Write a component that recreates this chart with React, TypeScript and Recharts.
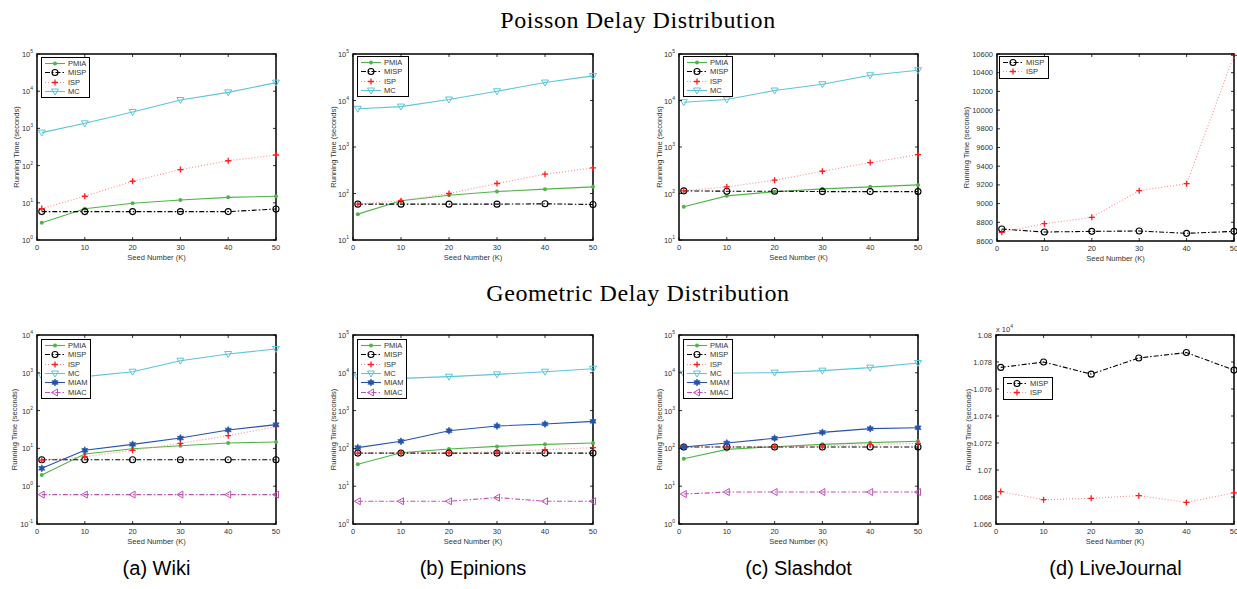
import React from "react";
import { LineChart, Line, XAxis, YAxis, ReferenceArea, Legend } from "recharts";

const seeds = [1, 10, 20, 30, 40, 50];
const seedTicks = [0, 10, 20, 30, 40, 50];

// Poisson delay distribution (running time, seconds)
const wikiPoissonPMIA = [2.9, 6.9, 9.7, 11.9, 14, 15];
const wikiPoissonMISP = [5.8, 5.8, 5.8, 5.8, 5.8, 6.8];
const wikiPoissonISP = [7, 15, 38, 78, 135, 193];
const wikiPoissonMC = [770, 1370, 2760, 5800, 9300, 17000];

const epinionsPoissonPMIA = [36, 70, 92, 110, 124, 139];
const epinionsPoissonMISP = [59, 59, 59, 59, 60, 58];
const epinionsPoissonISP = [59, 70, 100, 164, 260, 355];
const epinionsPoissonMC = [6650, 7400, 10500, 15800, 24300, 33800];

const slashdotPoissonPMIA = [52, 89, 109, 126, 139, 153];
const slashdotPoissonMISP = [114, 112, 112, 110, 110, 110];
const slashdotPoissonISP = [114, 139, 193, 301, 462, 685];
const slashdotPoissonMC = [9200, 10500, 16400, 22400, 34900, 44800];

const ljPoissonMISP = [8728, 8696, 8703, 8707, 8682, 8703];
const ljPoissonISP = [8693, 8785, 8853, 9138, 9213, 10586];

// Geometric delay distribution
const wikiGeoPMIA = [1.98, 7.1, 9.8, 11.8, 13.9, 14.8];
const wikiGeoMISP = [5, 5, 5, 5, 5, 5];
const wikiGeoISP = [4.9, 6.0, 8.9, 13.6, 21.7, 37.6];
const wikiGeoMC = [820, 790, 1070, 2090, 3140, 4270];
const wikiGeoMIAM = [2.97, 8.9, 12.8, 18.8, 30.7, 42.5];
const wikiGeoMIAC = [0.6, 0.6, 0.6, 0.6, 0.6, 0.6];

const epinionsGeoPMIA = [38, 77, 96, 113, 128, 139];
const epinionsGeoMISP = [75, 75, 75, 75, 75, 75];
const epinionsGeoISP = [75, 75, 77, 81, 92, 105];
const epinionsGeoMC = [7600, 7130, 7900, 9100, 10700, 12800];
const epinionsGeoMIAM = [105, 154, 294, 392, 442, 520];
const epinionsGeoMIAC = [4, 4, 4, 5, 4, 4];

const slashdotGeoPMIA = [53, 94, 111, 128, 142, 154];
const slashdotGeoMISP = [109, 109, 109, 109, 109, 109];
const slashdotGeoISP = [109, 109, 109, 116, 126, 136];
const slashdotGeoMC = [9500, 9700, 10100, 11400, 13700, 18200];
const slashdotGeoMIAM = [109, 139, 185, 266, 333, 353];
const slashdotGeoMIAC = [6.2, 7, 7, 7, 7, 7];

const ljGeoMISP = [10776, 10780, 10771, 10783, 10787, 10774];
const ljGeoISP = [10684, 10678, 10679, 10681, 10676, 10683];

const logTicks5 = [1, 10, 100, 1000, 10000, 100000];
const logTicks4 = [10, 100, 1000, 10000, 100000];
const logTicksWikiGeo = [0.1, 1, 10, 100, 1000, 10000];
const ljPoissonTicks = [8600, 8800, 9000, 9200, 9400, 9600, 9800, 10000, 10200, 10400, 10600];
const ljGeoTicks = [10660, 10680, 10700, 10720, 10740, 10760, 10780, 10800];

const captions = ["(a) Wiki", "(b) Epinions", "(c) Slashdot", "(d) LiveJournal"];

type Kind = "dot" | "circle" | "plus" | "triDown" | "triLeft" | "hex";
const STYLE: Record<string, { color: string; dash?: string; marker: Kind; markerColor?: string }> = {
  PMIA: { color: "#4fb548", marker: "dot" },
  MISP: { color: "#000000", dash: "5 2 1.5 2", marker: "circle" },
  ISP: { color: "#ff8c8c", dash: "1 2", marker: "plus", markerColor: "#ff1c1c" },
  MC: { color: "#5cc5da", marker: "triDown" },
  MIAM: { color: "#2553a8", marker: "hex" },
  MIAC: { color: "#c24fb8", dash: "5 2 1.5 2", marker: "triLeft" },
};

const SANS = '"Liberation Sans", Arial, Helvetica, sans-serif';
const SERIF = '"Liberation Serif", "Times New Roman", serif';
const Y_W = 40;
const TOP_M = 16;

function hexPoints(r: number) {
  const pts: string[] = [];
  for (let i = 0; i < 12; i++) {
    const a = (Math.PI / 6) * i - Math.PI / 2;
    const rr = i % 2 === 0 ? r : r * 0.55;
    pts.push(`${(rr * Math.cos(a)).toFixed(2)},${(rr * Math.sin(a)).toFixed(2)}`);
  }
  return pts.join(" ");
}

function Marker({ kind, color, cx, cy }: { kind: Kind; color: string; cx: number; cy: number }) {
  if (cx == null || cy == null || isNaN(cx) || isNaN(cy)) return null;
  const t = `translate(${cx},${cy})`;
  switch (kind) {
    case "dot":
      return <circle cx={cx} cy={cy} r={2} fill={color} />;
    case "circle":
      return <circle cx={cx} cy={cy} r={3} fill="none" stroke={color} strokeWidth={1.1} />;
    case "plus":
      return <path transform={t} d="M-3,0H3M0,-3V3" stroke={color} strokeWidth={1.3} />;
    case "triDown":
      return <path transform={t} d="M-3.5,-2.5L3.5,-2.5L0,3.5Z" fill="none" stroke={color} strokeWidth={1} />;
    case "triLeft":
      return <path transform={t} d="M2.5,-3.5L2.5,3.5L-3.5,0Z" fill="none" stroke={color} strokeWidth={1} />;
    case "hex":
      return <polygon transform={t} points={hexPoints(3.6)} fill={color} stroke={color} strokeWidth={0.6} />;
  }
  return null;
}

type Panel = {
  id: string;
  left: number;
  top: number;
  w: number;
  h: number;
  log: boolean;
  domain: [number, number];
  ticks: number[];
  fmt?: (v: number) => string;
  series: [string, number[]][];
  legend: { x: number; y: number; w: number };
  yGap: number;
  multiplier?: boolean;
};

const panels: Panel[] = [
  {
    id: "wikiP", left: 37, top: 54, w: 239, h: 186, log: true, domain: [1, 100000], ticks: logTicks5,
    series: [["PMIA", wikiPoissonPMIA], ["MISP", wikiPoissonMISP], ["ISP", wikiPoissonISP], ["MC", wikiPoissonMC]],
    legend: { x: 4, y: 3, w: 49 }, yGap: 21,
  },
  {
    id: "epiP", left: 353, top: 54, w: 240, h: 186, log: true, domain: [10, 100000], ticks: logTicks4,
    series: [["PMIA", epinionsPoissonPMIA], ["MISP", epinionsPoissonMISP], ["ISP", epinionsPoissonISP], ["MC", epinionsPoissonMC]],
    legend: { x: 4, y: 2, w: 52 }, yGap: 20,
  },
  {
    id: "slaP", left: 679, top: 54, w: 239, h: 186, log: true, domain: [10, 100000], ticks: logTicks4,
    series: [["PMIA", slashdotPoissonPMIA], ["MISP", slashdotPoissonMISP], ["ISP", slashdotPoissonISP], ["MC", slashdotPoissonMC]],
    legend: { x: 4, y: 2, w: 50 }, yGap: 20,
  },
  {
    id: "ljP", left: 997, top: 54, w: 237, h: 187, log: false, domain: [8600, 10600], ticks: ljPoissonTicks,
    series: [["MISP", ljPoissonMISP], ["ISP", ljPoissonISP]],
    legend: { x: 2, y: 2, w: 50 }, yGap: 31,
  },
  {
    id: "wikiG", left: 37, top: 335, w: 239, h: 189, log: true, domain: [0.1, 10000], ticks: logTicksWikiGeo,
    series: [["PMIA", wikiGeoPMIA], ["MISP", wikiGeoMISP], ["ISP", wikiGeoISP], ["MC", wikiGeoMC], ["MIAM", wikiGeoMIAM], ["MIAC", wikiGeoMIAC]],
    legend: { x: 4, y: 4, w: 50 }, yGap: 23,
  },
  {
    id: "epiG", left: 353, top: 335, w: 240, h: 189, log: true, domain: [1, 100000], ticks: logTicks5,
    series: [["PMIA", epinionsGeoPMIA], ["MISP", epinionsGeoMISP], ["ISP", epinionsGeoISP], ["MC", epinionsGeoMC], ["MIAM", epinionsGeoMIAM], ["MIAC", epinionsGeoMIAC]],
    legend: { x: 4, y: 4, w: 50 }, yGap: 20,
  },
  {
    id: "slaG", left: 679, top: 335, w: 239, h: 189, log: true, domain: [1, 100000], ticks: logTicks5,
    series: [["PMIA", slashdotGeoPMIA], ["MISP", slashdotGeoMISP], ["ISP", slashdotGeoISP], ["MC", slashdotGeoMC], ["MIAM", slashdotGeoMIAM], ["MIAC", slashdotGeoMIAC]],
    legend: { x: 4, y: 4, w: 50 }, yGap: 20,
  },
  {
    id: "ljG", left: 996, top: 335, w: 238, h: 189, log: false, domain: [10660, 10800], ticks: ljGeoTicks,
    fmt: (v) => String(Number((v / 10000).toFixed(3))),
    series: [["MISP", ljGeoMISP], ["ISP", ljGeoISP]],
    legend: { x: 7, y: 42, w: 50 }, yGap: 28, multiplier: true,
  },
];

function LegendBox({ names, width }: { names: string[]; width: number }) {
  return (
    <div style={{ width, background: "#fff", border: "1.5px solid #000", padding: "1px 0", boxSizing: "border-box" }}>
      {names.map((n) => {
        const s = STYLE[n];
        return (
          <div key={n} style={{ display: "flex", alignItems: "center", height: 9.3 }}>
            <svg width={26} height={9} style={{ flex: "none" }}>
              <line x1={3} x2={23} y1={4.5} y2={4.5} stroke={s.color} strokeWidth={1.1} strokeDasharray={s.dash} />
              <Marker kind={s.marker} color={s.markerColor ?? s.color} cx={13} cy={4.5} />
            </svg>
            <span style={{ fontFamily: SANS, fontSize: 7.5, color: "#333", lineHeight: "9px" }}>{n}</span>
          </div>
        );
      })}
    </div>
  );
}

function PanelChart({ p }: { p: Panel }) {
  const rows = seeds.map((k, i) => {
    const r: Record<string, number> = { k };
    p.series.forEach(([name, vals]) => (r[name] = vals[i]));
    return r;
  });
  const W = Y_W + p.w + 10;
  const H = TOP_M + p.h + 30;
  const bottom = TOP_M + p.h;

  const yTick = (t: any) => {
    const v = t.payload.value as number;
    const y = t.y as number;
    const exp = Math.round(Math.log10(v));
    return (
      <g key={`y-${v}`}>
        <line x1={Y_W} x2={Y_W + 3} y1={y} y2={y} stroke="#000" strokeWidth={0.8} />
        <line x1={Y_W + p.w - 3} x2={Y_W + p.w} y1={y} y2={y} stroke="#000" strokeWidth={0.8} />
        {p.log ? (
          <text x={Y_W - 4} y={y + 3} textAnchor="end" fontSize={7.5} fill="#333" fontFamily={SANS}>
            10<tspan dy={-4} fontSize={5}>{exp}</tspan>
          </text>
        ) : (
          <text x={Y_W - 4} y={y + 2.5} textAnchor="end" fontSize={7.5} fill="#333" fontFamily={SANS}>
            {p.fmt ? p.fmt(v) : v}
          </text>
        )}
      </g>
    );
  };

  const xTick = (t: any) => {
    const v = t.payload.value as number;
    const x = t.x as number;
    return (
      <g key={`x-${v}`}>
        <line x1={x} x2={x} y1={bottom} y2={bottom - 3} stroke="#000" strokeWidth={0.8} />
        <line x1={x} x2={x} y1={TOP_M} y2={TOP_M + 3} stroke="#000" strokeWidth={0.8} />
        <text x={x} y={bottom + 10} textAnchor="middle" fontSize={7.5} fill="#333" fontFamily={SANS}>
          {v}
        </text>
      </g>
    );
  };

  const yLabel = () => (
    <g>
      <text
        transform={`translate(${Y_W - p.yGap + 3},${TOP_M + p.h / 2}) rotate(-90)`}
        textAnchor="middle"
        fontSize={7.5}
        fill="#333"
        fontFamily={SANS}
      >
        Running Time (seconds)
      </text>
      {p.multiplier && (
        <text x={Y_W} y={TOP_M - 3} fontSize={7.5} fill="#333" fontFamily={SANS}>
          x 10<tspan dy={-4} fontSize={5}>4</tspan>
        </text>
      )}
    </g>
  );

  const xLabel = () => (
    <text x={Y_W + p.w / 2} y={bottom + 20} textAnchor="middle" fontSize={7.5} fill="#333" fontFamily={SANS}>
      Seed Number (K)
    </text>
  );

  return (
    <div style={{ position: "absolute", left: p.left - Y_W, top: p.top - TOP_M }}>
      <LineChart width={W} height={H} data={rows} margin={{ top: TOP_M, right: 10, bottom: 0, left: 0 }}>
        <XAxis
          dataKey="k"
          type="number"
          domain={[0, 50]}
          ticks={seedTicks}
          interval={0}
          height={30}
          axisLine={false}
          tickLine={false}
          tick={xTick}
          label={{ content: xLabel }}
        />
        <YAxis
          type="number"
          scale={p.log ? "log" : "linear"}
          domain={p.domain}
          allowDataOverflow
          ticks={p.ticks}
          interval={0}
          width={Y_W}
          axisLine={false}
          tickLine={false}
          tick={yTick}
          label={{ content: yLabel }}
        />
        {p.series.map(([name]) => {
          const s = STYLE[name];
          return (
            <Line
              key={name}
              type="linear"
              dataKey={name}
              stroke={s.color}
              strokeWidth={1.1}
              strokeDasharray={s.dash}
              isAnimationActive={false}
              activeDot={false}
              dot={(d: any) => (
                <Marker key={`${name}-${d.index}`} kind={s.marker} color={s.markerColor ?? s.color} cx={d.cx} cy={d.cy} />
              )}
            />
          );
        })}
        <ReferenceArea
          x1={0}
          x2={50}
          y1={p.domain[0]}
          y2={p.domain[1]}
          fill="none"
          fillOpacity={0}
          stroke="#000"
          strokeWidth={1.5}
          ifOverflow="visible"
        />
        <Legend
          layout="vertical"
          align="center"
          verticalAlign="middle"
          wrapperStyle={{ left: Y_W + p.legend.x, top: TOP_M + p.legend.y, width: p.legend.w }}
          content={() => <LegendBox names={p.series.map(([n]) => n)} width={p.legend.w} />}
        />
      </LineChart>
    </div>
  );
}

const colCenters = [156.5, 473, 798.5, 1115.5];

export default function App() {
  return (
    <div style={{ position: "absolute", left: 0, top: 0, width: 1237, height: 589, overflow: "hidden", background: "#fff" }}>
      <div style={{ position: "absolute", left: 0, width: 1276, top: 6, textAlign: "center", fontFamily: SERIF, fontSize: 24, letterSpacing: 0.6, lineHeight: "28px" }}>
        Poisson Delay Distribution
      </div>
      <div style={{ position: "absolute", left: 0, width: 1276, top: 279, textAlign: "center", fontFamily: SERIF, fontSize: 24, letterSpacing: 0.6, lineHeight: "28px" }}>
        Geometric Delay Distribution
      </div>
      {panels.map((p) => (
        <PanelChart key={p.id} p={p} />
      ))}
      {captions.map((c, i) => (
        <div
          key={c}
          style={{ position: "absolute", left: colCenters[i] - 100, width: 200, top: 556, textAlign: "center", fontFamily: SANS, fontSize: 20, lineHeight: "24px" }}
        >
          {c}
        </div>
      ))}
    </div>
  );
}
